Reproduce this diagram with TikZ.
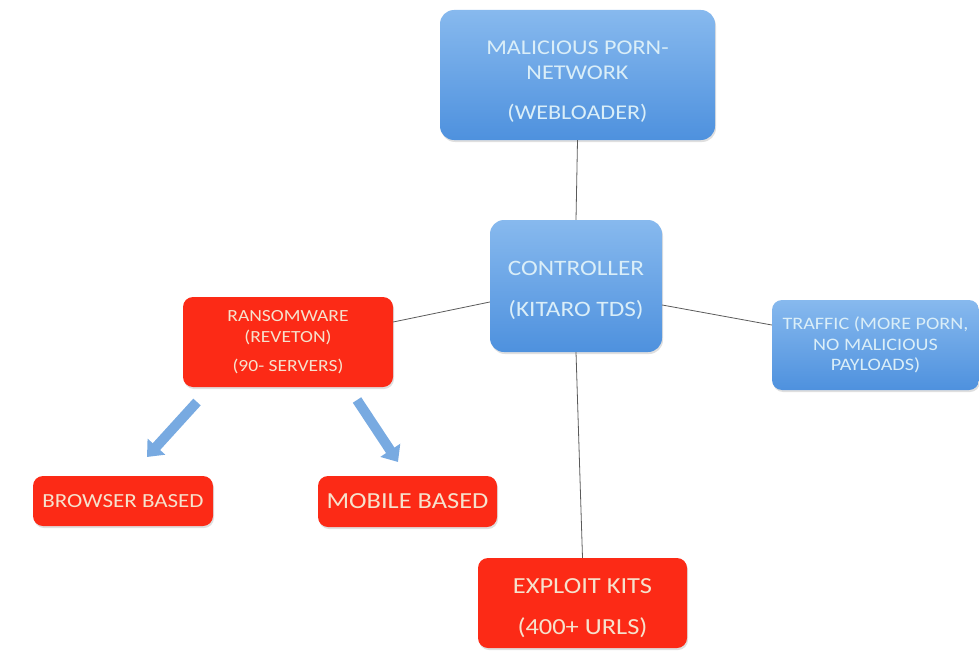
\documentclass[tikz,border=0pt]{standalone}
\usepackage{fontspec}
\setmainfont{Carlito}
\newfontfamily\wf[FakeStretch=1.15]{Carlito}
\usetikzlibrary{shadows,arrows.meta}
\definecolor{btop}{RGB}{135,185,238}
\definecolor{bbot}{RGB}{78,145,222}
\definecolor{rfill}{RGB}{252,42,22}
\definecolor{btext}{RGB}{218,238,248}
\definecolor{rtext}{RGB}{246,226,205}
\definecolor{lnk}{RGB}{90,90,90}
\definecolor{arr}{RGB}{120,170,225}
\tikzset{
  bluebox/.style={rounded corners=14pt, top color=btop, bottom color=bbot, draw=none,
    drop shadow={opacity=0.25, shadow xshift=1pt, shadow yshift=-2pt},
    text=btext, align=center, inner sep=0pt},
  redbox/.style={rounded corners=10pt, fill=rfill, draw=none,
    drop shadow={opacity=0.25, shadow xshift=1pt, shadow yshift=-2pt},
    text=rtext, align=center, inner sep=0pt},
  link/.style={draw=lnk, line width=0.8pt},
  fat/.style={draw=arr, line width=10pt, -{Triangle[width=23pt,length=14pt]}}
}
\begin{document}
\begin{tikzpicture}[x=1pt,y=-1pt]
\useasboundingbox (0,0) rectangle (979,666);
\node[bluebox, minimum width=275pt, minimum height=130pt, font=\wf\fontsize{21}{25}\selectfont] (web) at (577.5,75)
  {\mbox{}\\[1pt]MALICIOUS PORN-\\NETWORK\\[15pt](WEBLOADER)};
\node[bluebox, minimum width=172pt, minimum height=132pt, font=\wf\fontsize{22}{25}\selectfont] (ctl) at (576,286)
  {\mbox{}\\[-1pt]CONTROLLER\\[16pt](KITARO TDS)};
\node[redbox, minimum width=210pt, minimum height=90pt, font=\wf\fontsize{17}{21}\selectfont] (ran) at (288,342)
  {RANSOMWARE\\(REVETON)\\[8pt](90- SERVERS)};
\node[bluebox, rounded corners=10pt, minimum width=207pt, minimum height=90pt, font=\wf\fontsize{17.5}{20.5}\selectfont] (tra) at (875.5,345)
  {TRAFFIC (MORE PORN,\\NO MALICIOUS\\PAYLOADS)};
\node[redbox, minimum width=180pt, minimum height=50pt, font=\wf\fontsize{20}{22}\selectfont] (bro) at (123,501)
  {BROWSER BASED};
\node[redbox, minimum width=179pt, minimum height=51pt, font=\wf\fontsize{23}{26}\selectfont] (mob) at (407.5,501.5)
  {MOBILE BASED};
\node[redbox, minimum width=209pt, minimum height=90pt, font=\wf\fontsize{23}{25}\selectfont] (exp) at (582.5,603)
  {\mbox{}\\[1pt]EXPLOIT KITS\\[16pt](400+ URLS)};
\draw[link] (web.south) -- (ctl.north);
\draw[link] (ctl.west |- 0,302) -- (ran.east |- 0,322);
\draw[link] (ctl.east |- 0,305) -- (tra.west |- 0,325);
\draw[link] (ctl.south) -- (exp.north);
\coordinate (a1s) at (197,402);
\coordinate (a1e) at (147,457);
\coordinate (a2s) at (357,400);
\coordinate (a2e) at (398,462);
\draw[fat] (a1s) -- (a1e);
\draw[fat] (a2s) -- (a2e);
\end{tikzpicture}
\end{document}
